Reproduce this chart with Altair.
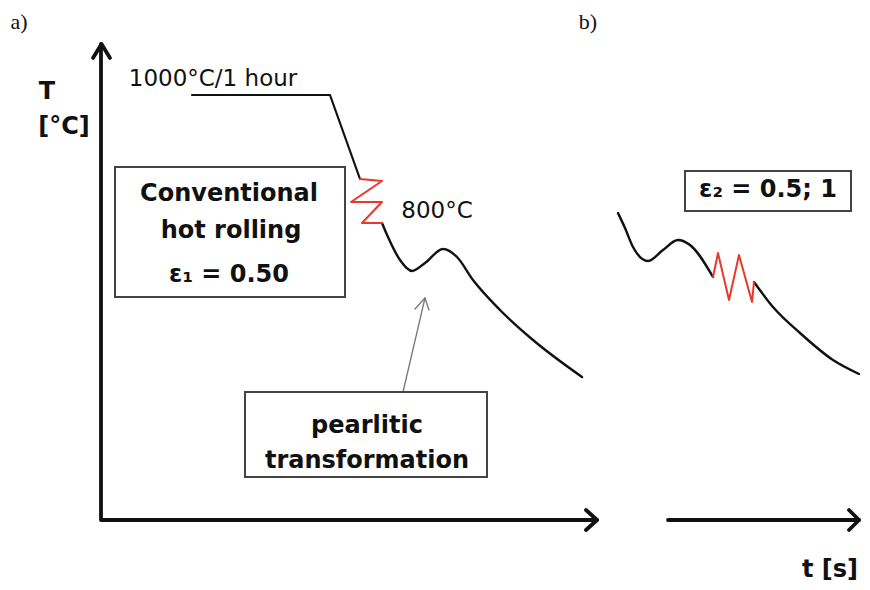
import altair as alt
import pandas as pd

# ---- schematic paths (reference pixel space: x right, y down) ----
AXIS_L_X = [101, 101, 597]
AXIS_L_Y = [44, 520, 520]
HEAD_V_X = [93, 101.5, 110]
HEAD_V_Y = [58, 44, 58]
HEAD_H1_X = [586, 597, 586]
HEAD_H1_Y = [510, 520, 530]
AXIS_R_X = [668, 859]
AXIS_R_Y = [520, 520]
HEAD_H2_X = [849, 859, 849]
HEAD_H2_Y = [510, 520, 530]

CURVE1_LIN_X = [192, 330, 360]
CURVE1_LIN_Y = [95, 95, 179]
CURVE1_SMOOTH_X = [382, 388, 400, 412, 425, 443, 457, 473, 500, 533, 582]
CURVE1_SMOOTH_Y = [223, 237, 260, 271, 263, 249, 257, 280, 310, 340, 377]
ZIG1_X = [360, 382, 351, 382, 362, 382]
ZIG1_Y = [179, 181, 202, 202, 223, 223]

CURVE2A_X = [618, 625, 633, 648, 663, 678, 690, 713]
CURVE2A_Y = [213, 228, 247, 261, 250, 240, 245, 277]
ZIG2_X = [713, 718, 729, 739, 752, 754]
ZIG2_Y = [277, 253, 300, 255, 302, 282]
CURVE2B_X = [754, 773, 800, 833, 859]
CURVE2B_Y = [282, 307, 333, 360, 374]

POINTER_X = [403, 425]
POINTER_Y = [392, 298]
POINTER_HEAD_X = [415, 425, 429]
POINTER_HEAD_Y = [309, 298, 310]

BOX_X1 = [115, 685, 245]
BOX_X2 = [345, 851, 487]
BOX_Y1 = [167, 171, 392]
BOX_Y2 = [297, 211, 477]

BOLD_TEXT = ["T", "[°C]", "Conventional", "hot rolling", "ε₁ = 0.50",
             "ε₂ = 0.5; 1", "pearlitic", "transformation", "t [s]"]
BOLD_X = [47, 64, 229, 231, 229, 768, 367, 367, 830]
BOLD_Y = [99, 134, 201, 238, 282, 197, 433, 468, 577]

PLAIN_TEXT = ["1000°C/1 hour", "800°C"]
PLAIN_X = [213, 437]
PLAIN_Y = [86, 218]

SERIF_TEXT = ["a)", "b)"]
SERIF_X = [19, 588]
SERIF_Y = [29, 29]

X_DOMAIN = [8, 862]
Y_DOMAIN = [8, 582]

xs = alt.Scale(domain=X_DOMAIN, nice=False, zero=False)
ys = alt.Scale(domain=Y_DOMAIN, nice=False, zero=False, reverse=True)


def path_df(parts):
    rows = []
    for seg, (px, py) in enumerate(parts):
        for i, (a, b) in enumerate(zip(px, py)):
            rows.append({"seg": seg, "i": i, "x": a, "y": b})
    return pd.DataFrame(rows)


def path_layer(parts, color, width, interp="linear"):
    return alt.Chart(path_df(parts)).mark_line(
        color=color, strokeWidth=width, interpolate=interp,
        strokeCap="round", strokeJoin="round"
    ).encode(
        x=alt.X("x:Q", scale=xs, axis=None),
        y=alt.Y("y:Q", scale=ys, axis=None),
        detail="seg:N",
        order="i:Q",
    )


axes = path_layer([(AXIS_L_X, AXIS_L_Y), (HEAD_V_X, HEAD_V_Y), (HEAD_H1_X, HEAD_H1_Y),
                   (AXIS_R_X, AXIS_R_Y), (HEAD_H2_X, HEAD_H2_Y)], "#111111", 3.8)
lin = path_layer([(CURVE1_LIN_X, CURVE1_LIN_Y)], "#111111", 2.2)
smooth = path_layer([(CURVE1_SMOOTH_X, CURVE1_SMOOTH_Y), (CURVE2A_X, CURVE2A_Y),
                     (CURVE2B_X, CURVE2B_Y)], "#111111", 2.4, "monotone")
red = path_layer([(ZIG1_X, ZIG1_Y), (ZIG2_X, ZIG2_Y)], "#e8372c", 2.0)
pointer = path_layer([(POINTER_X, POINTER_Y), (POINTER_HEAD_X, POINTER_HEAD_Y)], "#777777", 1.3)

boxes_df = pd.DataFrame({"x1": BOX_X1, "x2": BOX_X2, "y1": BOX_Y1, "y2": BOX_Y2})
boxes = alt.Chart(boxes_df).mark_rect(fill="white", stroke="#444444", strokeWidth=2).encode(
    x=alt.X("x1:Q", scale=xs, axis=None), x2="x2:Q",
    y=alt.Y("y1:Q", scale=ys, axis=None), y2="y2:Q",
)

bold_df = pd.DataFrame({"t": BOLD_TEXT, "x": BOLD_X, "y": BOLD_Y})
bold = alt.Chart(bold_df).mark_text(
    font="DejaVu Sans", fontWeight="bold", fontSize=24, align="center",
    baseline="alphabetic", color="#111111"
).encode(
    x=alt.X("x:Q", scale=xs, axis=None), y=alt.Y("y:Q", scale=ys, axis=None), text="t:N"
)

plain_df = pd.DataFrame({"t": PLAIN_TEXT, "x": PLAIN_X, "y": PLAIN_Y})
plain = alt.Chart(plain_df).mark_text(
    font="DejaVu Sans", fontSize=23, align="center", baseline="alphabetic", color="#111111"
).encode(
    x=alt.X("x:Q", scale=xs, axis=None), y=alt.Y("y:Q", scale=ys, axis=None), text="t:N"
)

serif_df = pd.DataFrame({"t": SERIF_TEXT, "x": SERIF_X, "y": SERIF_Y})
serif = alt.Chart(serif_df).mark_text(
    font="Liberation Serif", fontSize=22, align="center", baseline="alphabetic", color="#111111"
).encode(
    x=alt.X("x:Q", scale=xs, axis=None), y=alt.Y("y:Q", scale=ys, axis=None), text="t:N"
)

chart = alt.layer(axes, lin, smooth, red, pointer, boxes, bold, plain, serif).properties(
    width=854, height=574, padding=0, autosize=alt.AutoSizeParams(type="none"),
    background="white",
).configure_view(stroke=None)

chart.save("out.html", embed_options={"renderer": "svg", "actions": False})
